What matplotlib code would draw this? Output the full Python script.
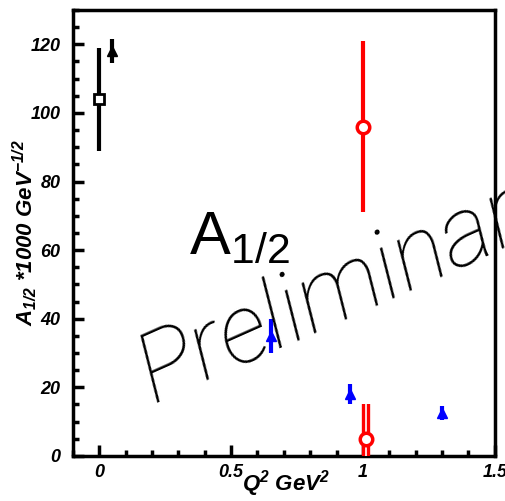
import matplotlib
matplotlib.use("Agg")
import matplotlib.pyplot as plt
from matplotlib.ticker import MultipleLocator

# Helicity amplitude A_1/2 versus Q^2
q2_black_sq = [0.0]
a_black_sq = [104.0]
e_black_sq = [15.0]

q2_black_tri = [0.05]
a_black_tri = [118.0]
e_black_tri = [3.5]

q2_red = [1.0, 1.01]
a_red = [96.0, 5.0]
e_red = [25.0, 10.0]

q2_blue = [0.65, 0.95, 1.30]
a_blue = [35.0, 18.0, 12.5]
e_blue = [5.0, 3.0, 2.0]

xticks = [0, 0.5, 1, 1.5]
xtick_labels = ["0", "0.5", "1", "1.5"]
yticks = [0, 20, 40, 60, 80, 100, 120]

plt.rcParams['font.family'] = ['Liberation Sans', 'DejaVu Sans']
plt.rcParams['mathtext.fontset'] = 'custom'
plt.rcParams['mathtext.bf'] = 'Liberation Sans:bold:italic'
plt.rcParams['mathtext.it'] = 'Liberation Sans:bold:italic'
plt.rcParams['mathtext.rm'] = 'Liberation Sans'

fig = plt.figure(figsize=(5.06, 5.01), dpi=100)
ax = fig.add_axes([0.144, 0.090, 0.834, 0.890])

ax.errorbar(q2_black_sq, a_black_sq, yerr=e_black_sq, fmt='s', color='black',
            mfc='white', mec='black', ms=7, mew=2, elinewidth=3, capsize=0, zorder=3)
ax.errorbar(q2_black_tri, a_black_tri, yerr=e_black_tri, fmt='^', color='black',
            ms=7, elinewidth=3, capsize=0, zorder=3)

# red points: thick bar with a thin white core
ax.errorbar(q2_red[:1], a_red[:1], yerr=e_red[:1], fmt='none', ecolor='red',
            elinewidth=3, capsize=0, zorder=3)
ax.errorbar(q2_red[1:], a_red[1:], yerr=e_red[1:], fmt='none', ecolor='red',
            elinewidth=6, capsize=0, zorder=3)
ax.errorbar(q2_red[1:], a_red[1:], yerr=e_red[1:], fmt='none', ecolor='white',
            elinewidth=1.2, capsize=0, zorder=4)
ax.plot(q2_red, a_red, 'o', mfc='white', mec='red', ms=9, mew=2.5, zorder=5)

ax.errorbar(q2_blue, a_blue, yerr=e_blue, fmt='^', color='blue',
            ms=7, elinewidth=3, capsize=0, zorder=3)

ax.set_xlim(-0.1, 1.5)
ax.set_ylim(0, 130)

ax.set_xticks(xticks)
ax.set_xticklabels(xtick_labels)
ax.set_yticks(yticks)
ax.xaxis.set_minor_locator(MultipleLocator(0.1))
ax.yaxis.set_minor_locator(MultipleLocator(5))

for s in ax.spines.values():
    s.set_linewidth(2.5)

ax.tick_params(which='major', direction='in', length=8, width=2.5,
               labelsize=13, pad=9)
ax.tick_params(axis='x', which='major', pad=6)
ax.tick_params(which='minor', direction='in', length=4, width=2.5)
ax.tick_params(top=False, right=False, which='both')
for lbl in ax.get_xticklabels() + ax.get_yticklabels():
    lbl.set_fontweight('bold')
    lbl.set_fontstyle('italic')

# axis titles
fig.text(0.565, 0.034, r"Q$^\mathbf{2}$ GeV$^\mathbf{2}$", fontsize=16,
         fontweight='bold', fontstyle='italic', ha='center', va='center')
fig.text(0.048, 0.535, r"A$_\mathbf{1/2}$ *1000 GeV$^\mathbf{-1/2}$", fontsize=16,
         fontweight='bold', fontstyle='italic', rotation=90,
         ha='center', va='center')

ax.text(0.275, 0.455, r"A$_{\mathrm{1/2}}$", transform=ax.transAxes,
        fontsize=44, color='black')

fig.text(0.245, 0.2, "Preliminary", rotation=24, fontsize=70,
         fontstyle='italic', family=['Roboto', 'DejaVu Sans'], fontweight='light',
         color='black', clip_on=False)

fig.savefig("out.png", dpi=100)
